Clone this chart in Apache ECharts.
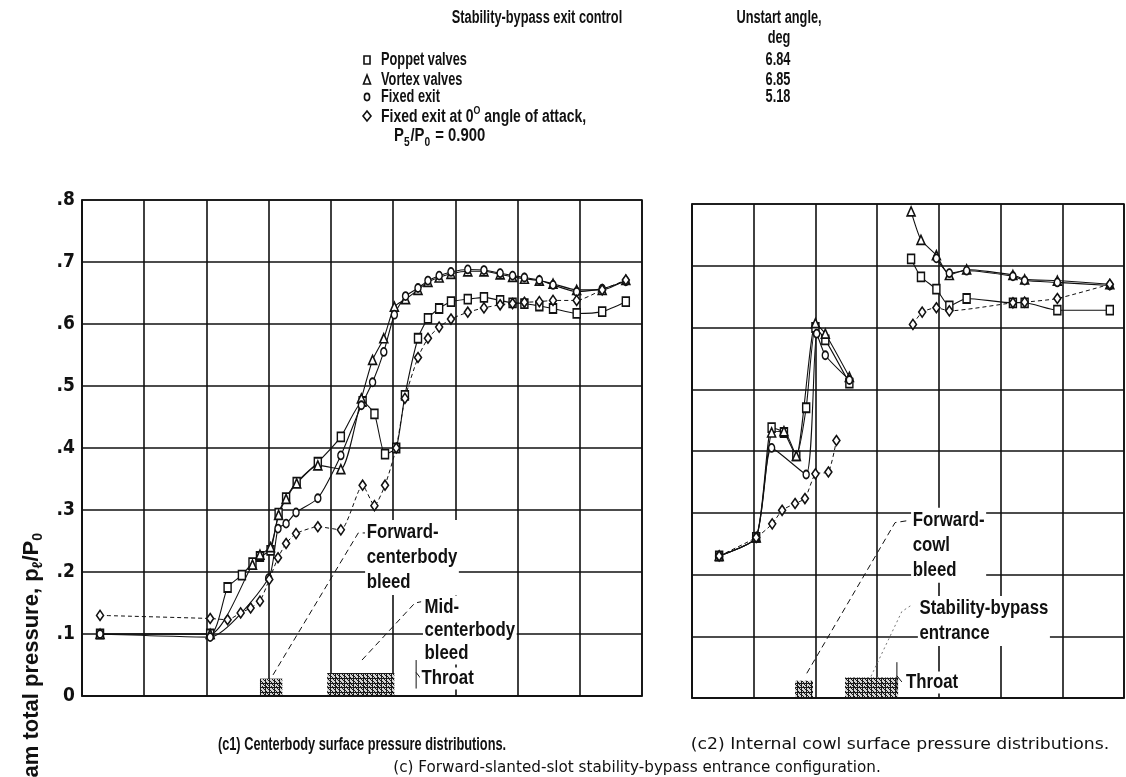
<!DOCTYPE html>
<html>
<head>
<meta charset="utf-8">
<script src="https://cdn.jsdelivr.net/npm/echarts@6/dist/echarts.min.js"></script>
<style>
  html, body { margin: 0; padding: 0; background: #fff; }
  #chart { width: 1126px; height: 777px; }
</style>
</head>
<body>
<div id="chart"></div>
<script>
// Surface pressure distributions, forward-slanted-slot stability-bypass entrance.
// x: axial station, one unit per grid column; y: local static / free-stream total pressure.

const GAP = ['-', '-'];   // breaks a curve between upstream and downstream stations

// (c1) Centerbody
const cbPoppet = [[0.29,0.100],[2.06,0.100],[2.34,0.175],[2.57,0.195],[2.74,0.215],[2.86,0.225],[3.03,0.235],[3.16,0.295],[3.28,0.320],[3.45,0.345],[3.79,0.377],[4.16,0.418],[4.51,0.475],[4.70,0.455],[4.87,0.390],[5.05,0.400],[5.19,0.485],[5.40,0.577],[5.56,0.609],[5.74,0.625],[5.93,0.636],[6.20,0.640],[6.46,0.643],[6.72,0.638],[6.92,0.634],[7.11,0.633],[7.35,0.629],[7.57,0.625],[7.95,0.617],[8.36,0.620],[8.74,0.636]];
const cbVortex = [[0.29,0.100],[2.06,0.100],[2.74,0.212],[2.86,0.228],[3.03,0.240],[3.16,0.292],[3.28,0.318],[3.45,0.343],[3.79,0.372],[4.16,0.366],[4.49,0.480],[4.67,0.542],[4.85,0.577],[5.02,0.628],[5.20,0.640],[5.40,0.655],[5.56,0.668],[5.74,0.675],[5.93,0.681],[6.20,0.685],[6.46,0.685],[6.72,0.680],[6.92,0.676],[7.11,0.673],[7.35,0.670],[7.57,0.665],[7.95,0.655],[8.36,0.655],[8.74,0.671]];
const cbFixed = [[0.29,0.100],[2.06,0.095],[3.00,0.190],[3.15,0.270],[3.28,0.278],[3.44,0.296],[3.79,0.319],[4.16,0.388],[4.49,0.469],[4.67,0.506],[4.85,0.555],[5.02,0.615],[5.20,0.645],[5.40,0.658],[5.56,0.670],[5.74,0.678],[5.93,0.684],[6.20,0.688],[6.46,0.687],[6.72,0.682],[6.92,0.678],[7.11,0.675],[7.35,0.671],[7.57,0.663],[7.95,0.652],[8.36,0.657],[8.74,0.669]];
const cbFixedZero = [[0.29,0.130],[2.06,0.125],[2.34,0.123],[2.55,0.134],[2.71,0.142],[2.86,0.153],[3.01,0.188],[3.15,0.223],[3.28,0.246],[3.44,0.262],[3.79,0.273],[4.16,0.268],[4.51,0.340],[4.70,0.307],[4.87,0.340],[5.05,0.400],[5.19,0.480],[5.40,0.546],[5.56,0.577],[5.74,0.595],[5.93,0.608],[6.20,0.619],[6.46,0.626],[6.72,0.631],[6.92,0.633],[7.11,0.635],[7.35,0.636],[7.57,0.638],[7.95,0.638],[8.36,0.655],[8.74,0.671]];

// (c2) Internal cowl
const icPoppetUp = [[0.44,0.230],[1.04,0.260],[1.29,0.438],[1.49,0.430],[1.69,0.392],[1.85,0.470],[2.00,0.600],[2.16,0.580],[2.55,0.510]];
const icPoppetDown = [[3.55,0.711],[3.71,0.682],[3.96,0.662],[4.17,0.635],[4.45,0.647],[5.20,0.640],[5.39,0.640],[5.92,0.628],[6.77,0.628]];
const icVortexUp = [[0.44,0.230],[1.04,0.260],[1.29,0.430],[1.49,0.432],[1.69,0.392],[2.00,0.607],[2.16,0.590],[2.55,0.520]];
const icVortexDown = [[3.55,0.788],[3.71,0.742],[3.96,0.717],[4.17,0.685],[4.45,0.694],[5.20,0.685],[5.39,0.678],[5.92,0.676],[6.77,0.670]];
const icFixedUp = [[0.44,0.230],[1.04,0.260],[1.29,0.405],[1.85,0.362],[2.02,0.590],[2.16,0.555],[2.55,0.515]];
const icFixedDown = [[3.96,0.712],[4.17,0.688],[4.45,0.692],[5.20,0.683],[5.39,0.676],[5.92,0.673],[6.77,0.668]];
const icFixedZeroUp = [[0.44,0.230],[1.04,0.260],[1.30,0.282],[1.46,0.304],[1.67,0.315],[1.83,0.323],[2.00,0.363],[2.21,0.366],[2.34,0.417]];
const icFixedZeroDown = [[3.58,0.605],[3.73,0.625],[3.96,0.632],[4.17,0.627],[5.20,0.640],[5.39,0.641],[5.92,0.647],[6.77,0.670]];

// Legend rows: configuration and unstart angle, deg
const legendNames = ['Poppet valves', 'Vortex valves', 'Fixed exit', 'Fixed exit at 0'];
const unstartAngles = ['6.84', '6.85', '5.18'];

const INK = '#111';
const SANS = "'Liberation Sans', Arial, sans-serif";
const COND = "'DejaVu Sans Condensed', sans-serif";
const WIDE = "'DejaVu Sans', sans-serif";
const SQUEEZE = 0.73;   // horizontal compression for the lettering
const LEG = 17.5;       // lettering size for legend block and first caption

const chart = echarts.init(document.getElementById('chart'), null, { renderer: 'canvas' });

function tickText(v) {
  if (Math.abs(v) < 1e-9) return '0';
  return '.' + Math.round(v * 10);
}

const markers = {
  poppet:    { symbol: 'rect',     size: [7, 9] },
  vortex:    { symbol: 'triangle', size: [8, 9] },
  fixed:     { symbol: 'circle',   size: [6, 8] },
  fixedZero: { symbol: 'diamond',  size: [7, 10] }
};

function curve(name, data, g, mk, dashed) {
  return {
    name: name, type: 'line', xAxisIndex: g, yAxisIndex: g, data: data,
    symbol: markers[mk].symbol, symbolSize: markers[mk].size,
    showSymbol: true, showAllSymbol: true, smooth: 0.2, connectNulls: false,
    lineStyle: { color: INK, width: dashed ? 1 : 1.1, type: dashed ? [4, 3] : 'solid' },
    itemStyle: { color: '#fff', borderColor: INK, borderWidth: 1.6 },
    emphasis: { disabled: true }, silent: true, animation: false
  };
}

function axisPair(g, xMax) {
  const splitLine = { show: true, lineStyle: { color: INK, width: 1.6 } };
  return {
    x: {
      type: 'value', gridIndex: g, min: 0, max: xMax, interval: 1,
      axisLabel: { show: false }, axisTick: { show: false },
      axisLine: { show: true, onZero: false, lineStyle: { color: INK, width: 1.6 } },
      splitLine: splitLine
    },
    y: {
      type: 'value', gridIndex: g, min: 0, max: 0.8, interval: 0.1,
      axisTick: { show: false },
      axisLine: { show: true, lineStyle: { color: INK, width: 1.6 } },
      splitLine: splitLine,
      axisLabel: {
        show: g === 0, margin: 7, color: INK,
        fontFamily: COND, fontWeight: 'bold', fontSize: 19,
        formatter: tickText
      }
    }
  };
}

const a0 = axisPair(0, 9), a1 = axisPair(1, 7);

const option = {
  backgroundColor: '#fff',
  animation: false,
  grid: [
    { left: 82, top: 200, width: 560, height: 496, show: true, borderColor: INK, borderWidth: 1.6 },
    { left: 692, top: 204, width: 432, height: 494, show: true, borderColor: INK, borderWidth: 1.6 }
  ],
  xAxis: [a0.x, a1.x],
  yAxis: [a0.y, a1.y],
  series: [
    curve('Poppet valves', cbPoppet, 0, 'poppet'),
    curve('Vortex valves', cbVortex, 0, 'vortex'),
    curve('Fixed exit', cbFixed, 0, 'fixed'),
    curve('Fixed exit at 0 deg', cbFixedZero, 0, 'fixedZero', true),
    curve('Poppet valves', icPoppetUp.concat([GAP], icPoppetDown), 1, 'poppet'),
    curve('Vortex valves', icVortexUp.concat([GAP], icVortexDown), 1, 'vortex'),
    curve('Fixed exit', icFixedUp.concat([GAP], icFixedDown), 1, 'fixed'),
    curve('Fixed exit at 0 deg', icFixedZeroUp.concat([GAP], icFixedZeroDown), 1, 'fixedZero', true)
  ]
};

chart.setOption(option);

// ---- annotations placed in axis units ----
function px(g, x, y) { return chart.convertToPixel({ gridIndex: g }, [x, y]); }

function stipple() {
  const n = 14;
  const c = document.createElement('canvas');
  c.width = n; c.height = n;
  const ctx = c.getContext('2d');
  ctx.fillStyle = '#d4d4d4'; ctx.fillRect(0, 0, n, n);
  ctx.fillStyle = '#1a1a1a';
  for (let i = 0; i < n; i++) for (let j = 0; j < n; j++) {
    if ((i * 7 + j * 11 + i * j * 3) % 5 < 2) ctx.fillRect(i, j, 1, 1);
  }
  return c;
}
const stip = stipple();

function patch(g, x0, x1, h) {
  const p0 = px(g, x0, h), p1 = px(g, x1, 0);
  return { type: 'rect', silent: true, z: 5,
    shape: { x: p0[0], y: p0[1], width: p1[0] - p0[0], height: p1[1] - p0[1] - 1 },
    style: { fill: { image: stip, repeat: 'repeat' } } };
}
function leader(g, pts, dash, color) {
  return { type: 'polyline', silent: true, z: 6,
    shape: { points: pts.map(p => px(g, p[0], p[1])) },
    style: { stroke: color || INK, lineWidth: 1, fill: null, lineDash: dash || null } };
}
function note(g, x, y, text, lh) {
  const p = px(g, x, y);
  return { type: 'text', silent: true, z: 7, x: p[0], y: p[1], scaleX: 0.8,
    style: { text: text, font: 'bold 21px ' + SANS, fill: INK, align: 'left',
      verticalAlign: 'top', lineHeight: lh || 25, backgroundColor: '#fff', padding: [0, 2, 0, 2] } };
}
function plain(x, y, text, size, align, font, weight, sx) {
  return { type: 'text', silent: true, z: 8, x: x, y: y, scaleX: sx || SQUEEZE,
    style: { text: text, font: (weight || 'bold') + ' ' + size + 'px ' + (font || SANS), fill: INK,
      align: align || 'left', verticalAlign: 'middle' } };
}

const g = [];
// left panel: bleed regions and throat
g.push(patch(0, 2.86, 3.22, 0.028));
g.push(patch(0, 3.94, 5.02, 0.037));
g.push(leader(0, [[3.07, 0.034], [4.44, 0.263], [4.55, 0.263]], [6, 4]));
g.push(leader(0, [[4.50, 0.058], [5.35, 0.150], [5.45, 0.152]], [6, 4]));
g.push(note(0, 4.55, 0.284, 'Forward-\ncenterbody\nbleed', 25));
g.push(note(0, 5.48, 0.162, 'Mid-\ncenterbody\nbleed', 23));
g.push(leader(0, [[5.37, 0.058], [5.37, 0.012]]));
g.push(leader(0, [[5.37, 0.038], [5.44, 0.029]]));
g.push(note(0, 5.43, 0.046, 'Throat', 22));

// right panel
g.push(patch(1, 1.67, 1.96, 0.028));
g.push(patch(1, 2.48, 3.34, 0.033));
g.push(leader(1, [[1.86, 0.040], [3.29, 0.284], [3.48, 0.287]], [6, 4]));
g.push(leader(1, [[2.90, 0.035], [3.40, 0.140], [3.55, 0.150]], [2, 3], '#777'));
g.push(note(1, 3.55, 0.308, 'Forward-\ncowl\nbleed', 25));
g.push(note(1, 3.66, 0.165, 'Stability-bypass\nentrance', 25));
g.push(leader(1, [[3.32, 0.058], [3.32, 0.012]]));
g.push(leader(1, [[3.32, 0.036], [3.40, 0.026]]));
g.push(note(1, 3.44, 0.043, 'Throat', 22));

// legend block
g.push(plain(537, 18, 'Stability-bypass exit control', LEG, 'center'));
g.push(plain(779, 18, 'Unstart angle,', LEG, 'center'));
g.push(plain(779, 38, 'deg', LEG, 'center'));
const rowY = [60, 80, 97, 116];
g.push({ type: 'rect', silent: true, shape: { x: 364, y: rowY[0] - 4, width: 6, height: 8 }, style: { fill: '#fff', stroke: INK, lineWidth: 1.6 } });
g.push({ type: 'polygon', silent: true, shape: { points: [[367, rowY[1] - 5], [363.5, rowY[1] + 4], [370.5, rowY[1] + 4]] }, style: { fill: '#fff', stroke: INK, lineWidth: 1.6 } });
g.push({ type: 'ellipse', silent: true, shape: { cx: 367, cy: rowY[2], rx: 2.6, ry: 3.6 }, style: { fill: '#fff', stroke: INK, lineWidth: 1.6 } });
g.push({ type: 'polygon', silent: true, shape: { points: [[367, rowY[3] - 5], [371, rowY[3]], [367, rowY[3] + 5], [363, rowY[3]]] }, style: { fill: '#fff', stroke: INK, lineWidth: 1.6 } });
for (let i = 0; i < 3; i++) {
  g.push(plain(381, rowY[i], legendNames[i], LEG));
  g.push(plain(778, rowY[i], unstartAngles[i], LEG, 'center'));
}
g.push({ type: 'text', silent: true, x: 381, y: rowY[3], scaleX: 0.8,
  style: { text: '{t|' + legendNames[3] + '}{sup|O}{t| angle of attack,}', fill: INK, verticalAlign: 'middle',
    rich: { t: { font: 'bold ' + LEG + 'px ' + SANS, lineHeight: 21, verticalAlign: 'bottom' },
            sup: { font: 'bold 11px ' + SANS, lineHeight: 21, verticalAlign: 'top' } } } });
g.push({ type: 'text', silent: true, x: 394, y: 138, scaleX: 0.85,
  style: { text: '{t|P}{sub|5}{t|/P}{sub|0}{t| = 0.900}', fill: INK, verticalAlign: 'middle',
    rich: { t: { font: 'bold ' + LEG + 'px ' + SANS, lineHeight: 21, verticalAlign: 'top' },
            sub: { font: 'bold 12px ' + SANS, lineHeight: 12, verticalAlign: 'bottom', padding: [0, 1, 0, 0] } } } });

// captions
g.push(plain(362, 745, '(c1) Centerbody surface pressure distributions.', LEG, 'center'));
g.push(plain(900, 745, '(c2) Internal cowl surface pressure distributions.', 16, 'center', WIDE, 'normal', 1.08));
g.push(plain(637, 768, '(c) Forward-slanted-slot stability-bypass entrance configuration.', 15.5, 'center', WIDE, 'normal', 0.98));

// vertical axis title (reads bottom to top, runs off the lower edge)
g.push({ type: 'text', silent: true, x: 33, y: 533, rotation: Math.PI / 2,
  style: { text: '{t|Ratio of local static pressure to free-stream total pressure, p}{sub|\u2113}{t|/P}{sub|0}',
    fill: INK, align: 'right', verticalAlign: 'middle',
    rich: { t: { font: 'bold 22px ' + SANS, lineHeight: 25, verticalAlign: 'top' },
            sub: { font: 'bold 14px ' + SANS, lineHeight: 14, verticalAlign: 'bottom' } } } });

chart.setOption({ graphic: g });
</script>
</body>
</html>
